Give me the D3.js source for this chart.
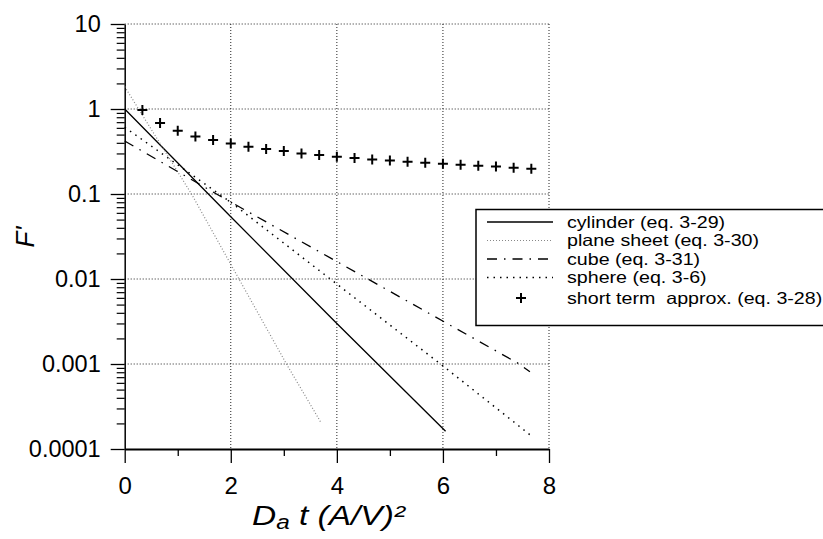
<!DOCTYPE html>
<html>
<head>
<meta charset="utf-8">
<script src="https://cdn.jsdelivr.net/npm/d3@7"></script>
<style>
  body { margin: 0; background: #fff; }
  svg { font-family: "Liberation Sans", Arial, sans-serif; }
  text { white-space: pre; }
</style>
</head>
<body>
<div id="chart"></div>
<script>
// values
const xTicks = [0, 2, 4, 6, 8];
const xMinor = [1, 3, 5, 7];
const yTicks = [10, 1, 0.1, 0.01, 0.001, 0.0001];
const yTickLabels = ["10", "1", "0.1", "0.01", "0.001", "0.0001"];

const cylinderX = [0, 2, 4, 6.05];
const cylinderY = [1, 0.054, 0.003, 0.000162];

const planeX = [0, 1.26, 3.05, 3.69];
const planeY = [1.83, 0.1, 0.001, 0.00021];

const cubeX = [0, 1.73, 7.44, 7.64];
const cubeY = [0.42, 0.1, 0.001, 0.00081];

const sphereX = [0, 2, 6, 7.66];
const sphereY = [0.61, 0.08, 0.00095, 0.000144];

const shortX = [1/3, 2/3, 1, 4/3, 5/3, 2, 7/3, 8/3, 3, 10/3, 11/3, 4, 13/3, 14/3, 5, 16/3, 17/3, 6, 19/3, 20/3, 7, 22/3, 23/3];
const shortY = [0.97, 0.684, 0.556, 0.476, 0.432, 0.394, 0.36, 0.338, 0.32, 0.30, 0.288, 0.275,
                0.265, 0.255, 0.248, 0.24, 0.233, 0.227, 0.221, 0.215, 0.21, 0.204, 0.198];

const legendNames = ["cylinder (eq. 3-29)", "plane sheet (eq. 3-30)", "cube (eq. 3-31)",
                     "sphere (eq. 3-6)", "short term  approx. (eq. 3-28)"];

const W = 823, H = 539;
const pLeft = 124.7, pRight = 549, pTop = 24, pBottom = 449;

const svg = d3.select("#chart").append("svg")
    .attr("width", W)
    .attr("height", H);

const x = d3.scaleLinear().domain([0, 8]).range([pLeft, pRight]);
const y = d3.scaleLog().domain([0.0001, 10]).range([pBottom, pTop]);

// grid
const grid = svg.append("g")
    .attr("stroke", "#222")
    .attr("stroke-width", 1)
    .attr("stroke-dasharray", "1,2");
grid.selectAll(".gx").data(xTicks.slice(1)).enter().append("line")
    .attr("x1", d => x(d)).attr("x2", d => x(d))
    .attr("y1", pTop).attr("y2", pBottom);
grid.selectAll(".gy").data(yTicks.slice(0, -1)).enter().append("line")
    .attr("x1", pLeft).attr("x2", pRight)
    .attr("y1", d => y(d)).attr("y2", d => y(d));

// axes
const xAxis = svg.append("g")
    .attr("transform", "translate(0," + pBottom + ")")
    .call(d3.axisBottom(x).tickValues(xTicks).tickSize(14).tickSizeOuter(0).tickFormat(d3.format("d")));
xAxis.select(".domain").attr("stroke-width", 2);
xAxis.selectAll(".tick line").attr("stroke-width", 1.3);
xAxis.selectAll("text")
    .attr("font-size", 24)
    .attr("font-family", "Liberation Sans, Arial, sans-serif")
    .attr("fill", "#000")
    .attr("dy", "0.71em")
    .attr("y", 28);

svg.append("g")
    .attr("transform", "translate(0," + pBottom + ")")
    .call(d3.axisBottom(x).tickValues(xMinor).tickSize(7).tickFormat(""))
    .call(g => g.select(".domain").remove())
    .selectAll(".tick line").attr("stroke-width", 1.3);

const yMinor = [];
[0.0001, 0.001, 0.01, 0.1, 1].forEach(d => {
    for (let k = 2; k <= 9; k++) yMinor.push(d * k);
});

const yAxis = svg.append("g")
    .attr("transform", "translate(" + pLeft + ",0)")
    .call(d3.axisLeft(y).tickValues(yTicks).tickSize(14).tickSizeOuter(0)
        .tickFormat((d, i) => yTickLabels[i]));
yAxis.select(".domain").attr("stroke-width", 1.5);
yAxis.selectAll(".tick line").attr("stroke-width", 1.3);
yAxis.selectAll("text")
    .attr("font-size", 23.5)
    .attr("font-family", "Liberation Sans, Arial, sans-serif")
    .attr("fill", "#000")
    .attr("x", -24);

svg.append("g")
    .attr("transform", "translate(" + pLeft + ",0)")
    .call(d3.axisLeft(y).tickValues(yMinor).tickSize(8).tickFormat(""))
    .call(g => g.select(".domain").remove())
    .selectAll(".tick line").attr("stroke-width", 1.2);

// axis titles
svg.append("text")
    .attr("transform", "translate(34,237) rotate(-90)")
    .attr("text-anchor", "middle")
    .attr("font-size", 26)
    .attr("font-style", "italic")
    .text("F'");

const xt = svg.append("text")
    .attr("x", 252)
    .attr("y", 525)
    .attr("font-size", 27.5)
    .attr("font-style", "italic")
    .attr("textLength", 153)
    .attr("lengthAdjust", "spacingAndGlyphs");
xt.append("tspan").text("D");
xt.append("tspan").attr("font-size", 20).attr("dy", 4).text("a");
xt.append("tspan").attr("dy", -4).text(" t (A/V)²");

// series
const line = d3.line()
    .x(d => x(d[0]))
    .y(d => y(d[1]));

const styles = [
    { xs: cylinderX, ys: cylinderY, color: "#000", width: 1.3, dash: null },
    { xs: planeX, ys: planeY, color: "#888", width: 1.2, dash: "1,2" },
    { xs: cubeX, ys: cubeY, color: "#000", width: 1.3, dash: "10,7,1.5,7" },
    { xs: sphereX, ys: sphereY, color: "#000", width: 1.5, dash: "1.5,5" }
];

styles.forEach(s => {
    svg.append("path")
        .datum(d3.zip(s.xs, s.ys))
        .attr("d", line)
        .attr("fill", "none")
        .attr("stroke", s.color)
        .attr("stroke-width", s.width)
        .attr("stroke-dasharray", s.dash);
});

function drawPlus(g, cx, cy) {
    g.append("path")
        .attr("d", "M-5,0H5M0,-5V5")
        .attr("transform", "translate(" + cx + "," + cy + ")")
        .attr("stroke", "#000")
        .attr("stroke-width", 2)
        .attr("fill", "none");
}

const pts = svg.append("g");
d3.zip(shortX, shortY).forEach(d => drawPlus(pts, x(d[0]), y(d[1])));

// legend
const lg = svg.append("g");
lg.append("rect")
    .attr("x", 476)
    .attr("y", 209.5)
    .attr("width", 360)
    .attr("height", 116)
    .attr("fill", "#fff")
    .attr("stroke", "#000")
    .attr("stroke-width", 1.5);

const rowY = [222, 240.5, 259, 277.5, 298];
legendNames.forEach((name, i) => {
    if (i < 4) {
        lg.append("line")
            .attr("x1", 487).attr("x2", 553)
            .attr("y1", rowY[i]).attr("y2", rowY[i])
            .attr("stroke", styles[i].color)
            .attr("stroke-width", styles[i].width)
            .attr("stroke-dasharray", styles[i].dash);
    } else {
        drawPlus(lg, 521, rowY[i]);
    }
    // reference text is drawn a bit wider than Arial
    lg.append("text")
        .attr("transform", "translate(567," + rowY[i] + ") scale(1.19,1)")
        .attr("dy", "0.35em")
        .attr("font-size", 16.5)
        .text(name);
});
</script>
</body>
</html>
